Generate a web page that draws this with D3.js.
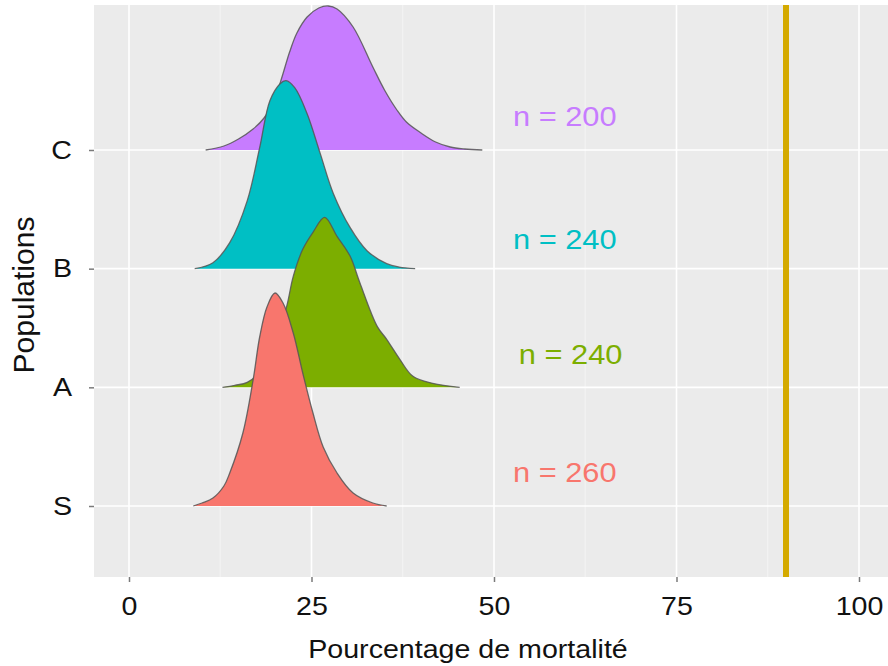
<!DOCTYPE html>
<html>
<head>
<meta charset="utf-8">
<script src="https://cdn.jsdelivr.net/npm/d3@7"></script>
<style>
  body { margin: 0; background: #fff; }
  svg text { font-family: "Liberation Sans", Arial, sans-serif; }
</style>
</head>
<body>
<div id="chart"></div>
<script>
var svgWidth = 888;
var svgHeight = 666;

// populations, bottom to top
var populations = ["S", "A", "B", "C"];
var effectifs = [260, 240, 240, 200];
var couleurs = ["#F8766D", "#7CAE00", "#00BFC4", "#C77CFF"];
var xTicks = [0, 25, 50, 75, 100];
var seuil = 90;

// density curves (x = % mortality, d = density)
var xS = [8.8, 10, 11.5, 13, 13.8, 15.6, 17, 17.9, 18.9, 20, 21.1, 22.5, 23.8, 25.2, 26.6, 28.5, 30.7, 33.4, 35.3];
var dS = [0, 0.0015, 0.004, 0.01, 0.0165, 0.0365, 0.063, 0.0845, 0.0995, 0.1065, 0.1015, 0.0865, 0.0665, 0.0465, 0.0295, 0.0165, 0.0065, 0.0015, 0];

var xA = [12.8, 14.5, 16.2, 18, 20, 21.6, 22.5, 23.8, 25.2, 26.8, 28.5, 30.3, 31.6, 34, 35.3, 37.1, 38.9, 41.6, 45.3];
var dA = [0, 0.001, 0.0025, 0.008, 0.022, 0.0405, 0.0555, 0.069, 0.0775, 0.085, 0.0755, 0.0655, 0.0525, 0.0305, 0.024, 0.014, 0.0055, 0.002, 0];

var xB = [9, 11.5, 13.8, 16.2, 17.9, 19.3, 20.7, 21.5, 22.7, 24.4, 26.2, 28, 30.3, 32.6, 35.3, 37, 39.2];
var dB = [0, 0.003, 0.013, 0.034, 0.0605, 0.084, 0.0925, 0.094, 0.0905, 0.0775, 0.0575, 0.0375, 0.0205, 0.009, 0.0025, 0.0008, 0];

var xC = [10.5, 13, 15, 17, 18.5, 20, 21, 22, 23, 24.4, 26, 27.3, 28.5, 30.7, 33.4, 35, 36.7, 38, 40, 42, 44, 46, 48.4];
var dC = [0, 0.002, 0.0055, 0.0105, 0.016, 0.026, 0.037, 0.049, 0.0585, 0.0665, 0.071, 0.072, 0.0705, 0.0615, 0.0415, 0.03, 0.02, 0.014, 0.0085, 0.004, 0.0015, 0.0005, 0];

var courbes = [[xS, dS], [xA, dA], [xB, dB], [xC, dC]];

var panel = { left: 94, right: 888, top: 5, bottom: 577 };
var etire = "scale(1.1, 1)";

var svg = d3.select("#chart")
    .append("svg")
    .attr("width", svgWidth)
    .attr("height", svgHeight);

var x = d3.scaleLinear().domain([0, 100]).range([129, 859]);
var y = d3.scalePoint().domain(populations).range([506, 150]);
var h = d3.scaleLinear().domain([0, 0.1]).range([0, 200]);

// panel background
svg.append("rect")
    .attr("x", panel.left)
    .attr("y", panel.top)
    .attr("width", panel.right - panel.left)
    .attr("height", panel.bottom - panel.top)
    .attr("fill", "#EBEBEB");

// minor grid
svg.selectAll(".minor")
    .data([12.5, 37.5, 62.5, 87.5])
    .enter().append("line")
    .attr("x1", d => x(d)).attr("x2", d => x(d))
    .attr("y1", panel.top).attr("y2", panel.bottom)
    .attr("stroke", "#F4F4F4")
    .attr("stroke-width", 1);

// major grid
svg.selectAll(".vgrid")
    .data(xTicks)
    .enter().append("line")
    .attr("x1", d => x(d)).attr("x2", d => x(d))
    .attr("y1", panel.top).attr("y2", panel.bottom)
    .attr("stroke", "#fff")
    .attr("stroke-width", 1.6);

svg.selectAll(".hgrid")
    .data(populations)
    .enter().append("line")
    .attr("x1", panel.left).attr("x2", panel.right)
    .attr("y1", d => y(d)).attr("y2", d => y(d))
    .attr("stroke", "#fff")
    .attr("stroke-width", 1.6);

// threshold line
svg.append("line")
    .attr("x1", x(seuil)).attr("x2", x(seuil))
    .attr("y1", panel.top).attr("y2", panel.bottom)
    .attr("stroke", "#D4AA00")
    .attr("stroke-width", 6);

// ridges, top row first so lower rows overlap
var ordre = [3, 2, 1, 0];
ordre.forEach(function(i) {
    var cat = populations[i];
    var pts = courbes[i][0].map((v, k) => ({ v: v, d: courbes[i][1][k] }));
    var area = d3.area()
        .x(p => x(p.v))
        .y0(y(cat))
        .y1(p => y(cat) - h(p.d))
        .curve(d3.curveCatmullRom.alpha(0.5));
    var line = d3.line()
        .x(p => x(p.v))
        .y(p => y(cat) - h(p.d))
        .curve(d3.curveCatmullRom.alpha(0.5));
    svg.append("path")
        .datum(pts)
        .attr("d", area)
        .attr("fill", couleurs[i]);
    svg.append("path")
        .datum(pts)
        .attr("d", line)
        .attr("fill", "none")
        .attr("stroke", "#555")
        .attr("stroke-opacity", 0.85)
        .attr("stroke-width", 1.3);
});

// n = labels
var labelX = { S: 52.6, A: 53.4, B: 52.6, C: 52.6 };
var labelDy = { S: -34, A: -33, B: -30, C: -34 };
populations.forEach(function(cat, i) {
    svg.append("text")
        .attr("transform", `translate(${x(labelX[cat])}, ${y(cat) + labelDy[cat]}) ${etire}`)
        .attr("dy", "0.36em")
        .attr("font-size", 28)
        .attr("fill", couleurs[i])
        .text("n = " + effectifs[i]);
});

// axes
var bottomAxis = d3.axisBottom(x).tickValues(xTicks).tickSize(5).tickPadding(15);
var gx = svg.append("g")
    .attr("transform", `translate(0, ${panel.bottom})`)
    .call(bottomAxis);
gx.select(".domain").remove();
gx.selectAll("line").attr("stroke", "#7a7a7a").attr("stroke-width", 1.5);
gx.selectAll("text")
    .attr("transform", etire)
    .attr("font-size", 26)
    .attr("fill", "#111")
    .attr("font-family", "Liberation Sans, Arial, sans-serif");

var leftAxis = d3.axisLeft(y).tickSize(5).tickPadding(15);
var gy = svg.append("g")
    .attr("transform", `translate(${panel.left}, 0)`)
    .call(leftAxis);
gy.select(".domain").remove();
gy.selectAll("line").attr("stroke", "#7a7a7a").attr("stroke-width", 1.5);
gy.selectAll("text")
    .attr("transform", etire)
    .attr("font-size", 26)
    .attr("fill", "#111")
    .attr("font-family", "Liberation Sans, Arial, sans-serif");

// axis titles
svg.append("text")
    .attr("transform", `translate(468, 658) ${etire}`)
    .attr("text-anchor", "middle")
    .attr("font-size", 26)
    .attr("fill", "#111")
    .text("Pourcentage de mortalité");

svg.append("text")
    .attr("transform", "translate(34, 295) rotate(-90)")
    .attr("text-anchor", "middle")
    .attr("font-size", 30)
    .attr("fill", "#111")
    .text("Populations");
</script>
</body>
</html>
